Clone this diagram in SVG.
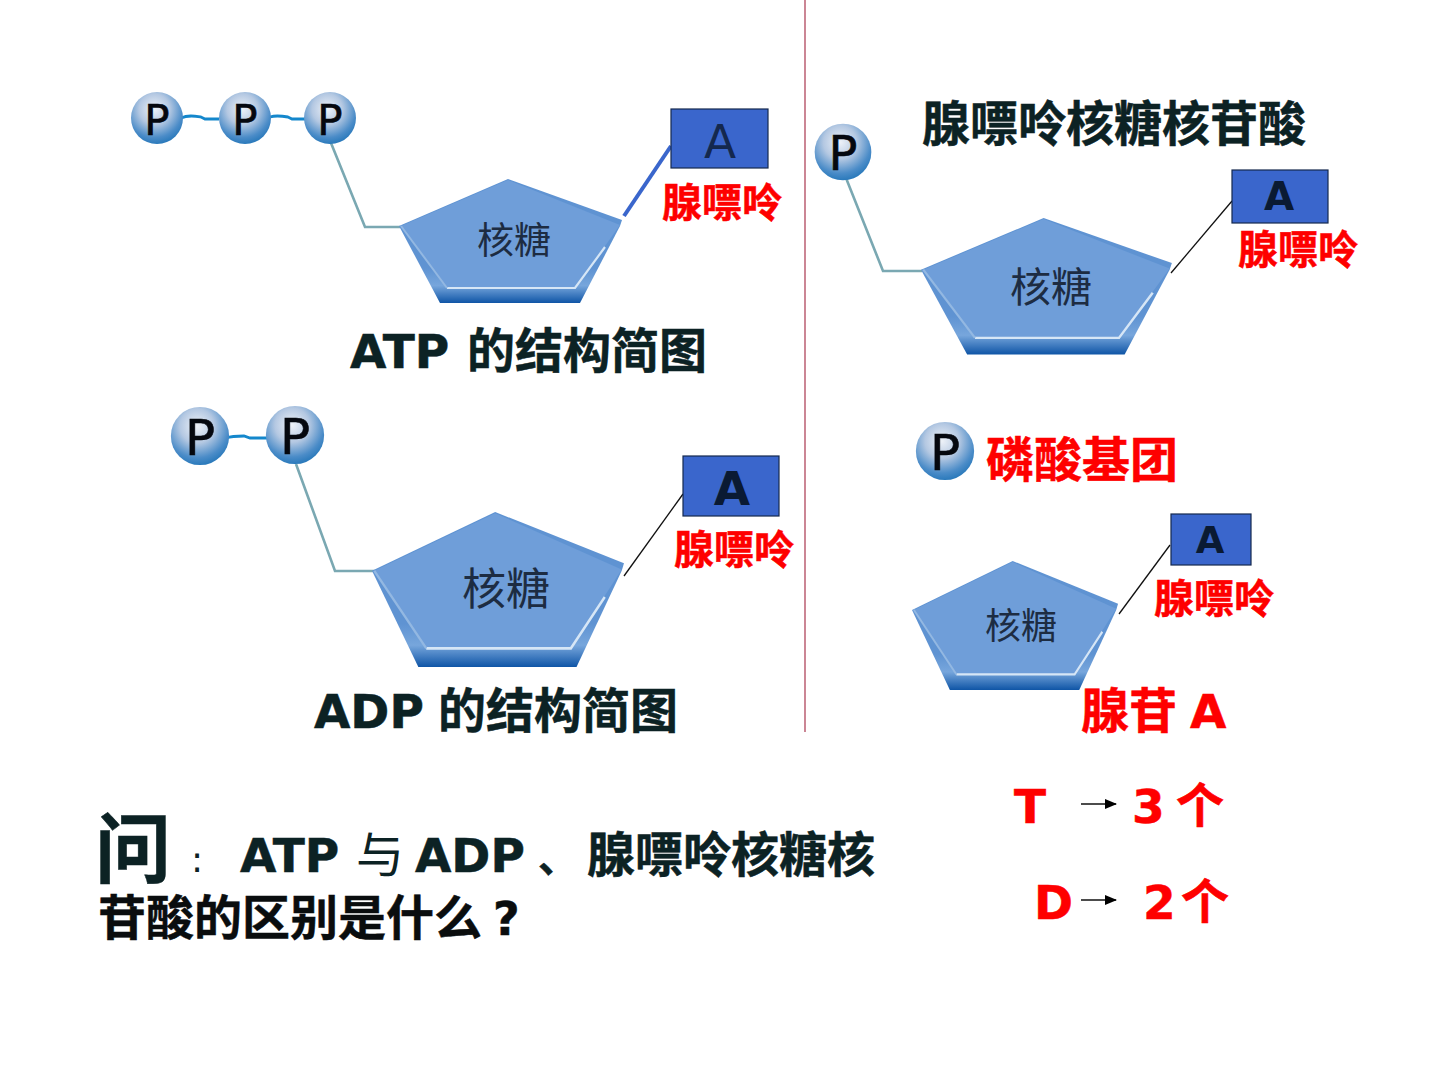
<svg xmlns="http://www.w3.org/2000/svg" xmlns:xlink="http://www.w3.org/1999/xlink" width="1440" height="1080" viewBox="0 0 1440 1080">
<style>
text{font-family:"DejaVu Sans","Noto Sans CJK SC",sans-serif}
.h{font-weight:700;fill:#0c2224;stroke:#0c2224;stroke-width:.5}
.k{font-weight:700;fill:#0a0d0e;stroke:#0a0d0e;stroke-width:.5}
.r{font-weight:700;fill:#fe0000;stroke:#fe0000;stroke-width:.5}
.sugar{font-family:"Noto Sans CJK SC",sans-serif;font-weight:400;fill:#1d2c42}
.pl{font-family:"DejaVu Sans",sans-serif;fill:#05080f;stroke:#05080f;stroke-width:.6;text-anchor:middle}
.box{fill:#3a66cc;stroke:#14284e;stroke-width:1.2}
.stem{fill:none;stroke:#7aa8b2;stroke-width:2.6}
.link{fill:none;stroke:#1487cc;stroke-width:2.8}
.thin{fill:none;stroke:#111;stroke-width:1.3}
.ar{stroke:#111;stroke-width:1.3;marker-end:url(#tip)}
</style>
<defs>
<radialGradient id="ballFill" cx="0.45" cy="0.33" r="0.7">
<stop offset="0" stop-color="#eef2f8"/><stop offset="0.42" stop-color="#b4c8e2"/><stop offset="0.78" stop-color="#4b8cc8"/><stop offset="1" stop-color="#2275b8"/>
</radialGradient>
<linearGradient id="rim" x1="0" y1="0" x2="0" y2="1">
<stop offset="0" stop-color="#5f93d2"/><stop offset="0.72" stop-color="#5f93d2"/><stop offset="0.86" stop-color="#77a6dc"/><stop offset="1" stop-color="#0f55a6"/>
</linearGradient>
<marker id="tip" markerWidth="12" markerHeight="10" refX="11" refY="5" orient="auto" markerUnits="userSpaceOnUse"><path d="M0 0L12 5L0 10z" fill="#000"/></marker>
<g id="sugarShape">
<path d="M109 0L223 41L221 47L181 124L41 124L0 47Z" fill="url(#rim)"/>
<path d="M109 1L221 46L176 109L48 109L2 47Z" fill="#6f9ed9"/>
<path d="M48 109H176L206 68" fill="none" stroke="#d6e6f6" stroke-width="2.2"/>
<path d="M2 47L48 109" fill="none" stroke="#93b8e2" stroke-width="2"/>
</g>
<circle id="ballShape" r="26" fill="url(#ballFill)"/>
</defs>
<rect width="1440" height="1080" fill="#fff"/>

<g id="connectors">
<path d="M805 0V732" stroke="#a8354e" stroke-width="1.2" fill="none"/>
<path class="link" d="M181 118C188 115 194 116 201 117L205 119H219M270 117C276 115 282 116 288 117L292 119H306"/>
<path class="stem" d="M331 143L365 227H400"/>
<path class="link" d="M226 438C232 436 238 436 244 436L250 438H268"/>
<path class="stem" d="M296 464L335 571H375"/>
<path class="stem" d="M846 178L883 271H922"/>
<path d="M624 216L671 146" stroke="#3a66cc" stroke-width="4" fill="none"/>
<path class="thin" d="M624 576L683 494"/>
<path class="thin" d="M1171 273L1232 201"/>
<path class="thin" d="M1119 614L1170 545"/>
<path class="ar" d="M1081 804H1116"/>
<path class="ar" d="M1081 900H1116"/>
</g>

<g id="atp">
<use xlink:href="#sugarShape" transform="translate(399 179)"/>
<text class="sugar" x="477" y="254" font-size="37">核糖</text>
<g id="atp-p1"><use xlink:href="#ballShape" x="157" y="118"/><text class="pl" x="157" y="135" font-size="42">P</text></g>
<g id="atp-p2"><use xlink:href="#ballShape" x="245" y="118"/><text class="pl" x="245" y="135" font-size="42">P</text></g>
<g id="atp-p3"><use xlink:href="#ballShape" x="330" y="118"/><text class="pl" x="330" y="135" font-size="42">P</text></g>
<g id="atp-a"><rect class="box" x="671" y="109" width="97" height="59"/><text x="720" y="158" font-size="47" text-anchor="middle" fill="#14284e">A</text></g>
<text class="r" x="662" y="217" font-size="40">腺嘌呤</text>
<text class="h" x="350" y="368" font-size="47">ATP<tspan x="467" font-size="48">的结构简图</tspan></text>
</g>

<g id="adp">
<use xlink:href="#sugarShape" transform="translate(372 512) scale(1.13 1.25)"/>
<text class="sugar" x="462" y="605" font-size="44">核糖</text>
<g id="adp-p1"><use xlink:href="#ballShape" transform="translate(200 436) scale(1.12)"/><text class="pl" x="200" y="455" font-size="50">P</text></g>
<g id="adp-p2"><use xlink:href="#ballShape" transform="translate(295 435) scale(1.12)"/><text class="pl" x="295" y="454" font-size="50">P</text></g>
<g id="adp-a"><rect class="box" x="683" y="456" width="96" height="60"/><text x="732" y="505" font-size="47" font-weight="700" text-anchor="middle" fill="#0a1a33">A</text></g>
<text class="r" x="674" y="564" font-size="40">腺嘌呤</text>
<text class="h" x="314" y="728" font-size="47">ADP<tspan x="438" font-size="48">的结构简图</tspan></text>
</g>

<g id="amp">
<use xlink:href="#sugarShape" transform="translate(921 218) scale(1.125 1.1)"/>
<text class="sugar" x="1010" y="302" font-size="41">核糖</text>
<g id="amp-p"><use xlink:href="#ballShape" transform="translate(843 152) scale(1.09)"/><text class="pl" x="843" y="170" font-size="48">P</text></g>
<g id="amp-a"><rect class="box" x="1232" y="170" width="96" height="53"/><text x="1279" y="210" font-size="39" font-weight="700" text-anchor="middle" fill="#0a1a33">A</text></g>
<text class="r" x="1238" y="264" font-size="40">腺嘌呤</text>
<text class="h" x="922" y="141" font-size="48">腺嘌呤核糖核苷酸</text>
</g>

<g id="phosphate">
<use xlink:href="#ballShape" transform="translate(945 451) scale(1.12)"/>
<text class="pl" x="945" y="470" font-size="50">P</text>
<text class="r" x="986" y="477" font-size="48">磷酸基团</text>
</g>

<g id="adenosine">
<use xlink:href="#sugarShape" transform="translate(912 561) scale(0.924 1.04)"/>
<text class="sugar" x="985" y="639" font-size="36">核糖</text>
<g id="adenosine-a"><rect class="box" x="1171" y="514" width="80" height="51"/><text x="1210" y="553" font-size="37" font-weight="700" text-anchor="middle" fill="#0a1a33">A</text></g>
<text class="r" x="1154" y="613" font-size="40">腺嘌呤</text>
<text class="r" x="1081" y="728" font-size="48">腺苷<tspan x="1190" font-size="47">A</tspan></text>
</g>

<g id="counts">
<text class="r" x="1014" y="823" font-size="47">T<tspan x="1132">3</tspan><tspan x="1176" font-size="48">个</tspan></text>
<text class="r" x="1034" y="919" font-size="47">D<tspan x="1143">2</tspan><tspan x="1181" font-size="48">个</tspan></text>
</g>

<g id="question">
<text class="h" x="95" y="877" font-size="76">问</text>
<text x="191" y="872" font-size="36" font-weight="400" fill="#0c2224">:</text>
<text class="h" x="240" y="872" font-size="47">ATP<tspan x="356" font-weight="400" font-size="48" stroke-width="0">与</tspan><tspan x="415">ADP</tspan><tspan x="538" font-size="40">、</tspan><tspan x="587" font-size="48">腺嘌呤核糖核</tspan></text>
<text class="k" x="98" y="935" font-size="48">苷酸的区别是什么<tspan x="493" font-size="46" font-family="DejaVu Sans">?</tspan></text>
</g>
</svg>
